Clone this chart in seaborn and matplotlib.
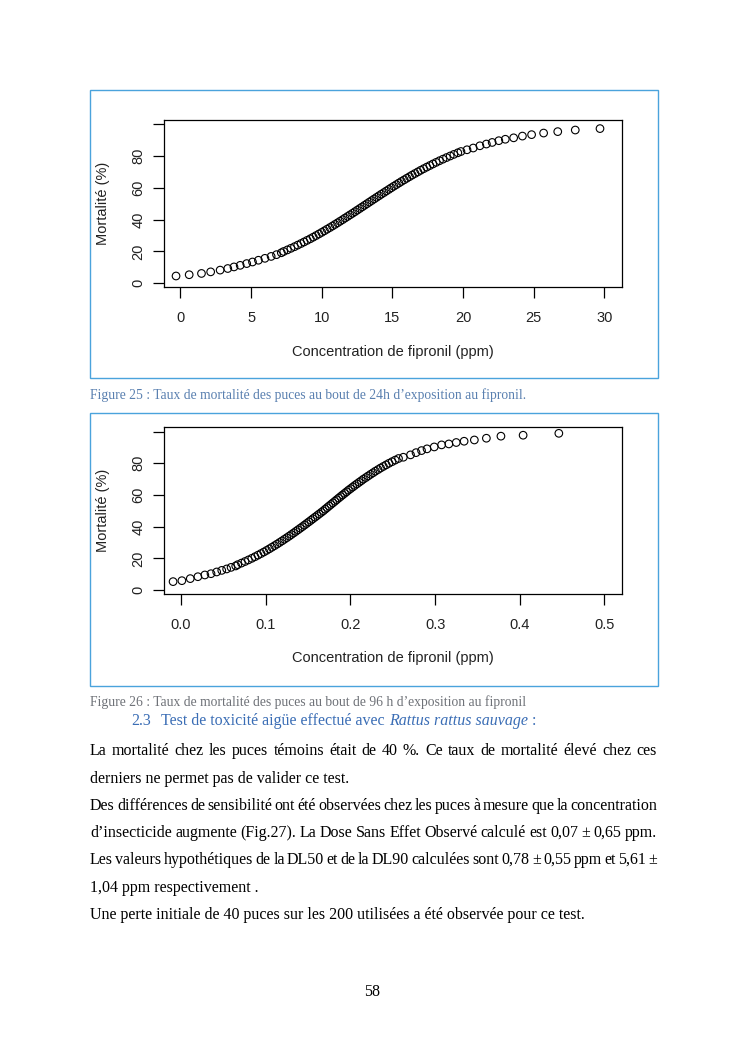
import matplotlib
matplotlib.use("Agg")
import matplotlib.pyplot as plt
import seaborn as sns
from matplotlib.patches import Rectangle

sns.set_style("white")
plt.rcParams["font.family"] = ["Liberation Sans", "DejaVu Sans"]

W, H = 745, 1053

# data (mortality in %, concentration in ppm)
conc_24h = [-0.31, 0.62, 1.49, 2.14, 2.81, 3.35, 3.79, 4.23, 4.69, 5.10,
            5.52, 5.98, 6.42, 6.80, 7.14,
            7.31, 7.57, 7.82, 8.07, 8.30, 8.53, 8.75, 8.97, 9.19, 9.40,
            9.60, 9.80, 10.00, 10.19, 10.38, 10.57, 10.76, 10.94, 11.12, 11.30,
            11.48, 11.65, 11.83, 12.00, 12.18, 12.35, 12.52, 12.69, 12.86, 13.03,
            13.20, 13.37, 13.54, 13.71, 13.88, 14.05, 14.22, 14.40, 14.57, 14.75,
            14.92, 15.10, 15.28, 15.46, 15.64, 15.83, 16.02, 16.21, 16.40, 16.60,
            16.80, 17.00, 17.21, 17.43, 17.65, 17.87, 18.10, 18.33, 18.58, 18.83,
            19.09, 19.35, 19.63,
            19.85, 20.28, 20.72, 21.19, 21.65, 22.06, 22.53, 22.99, 23.58, 24.20,
            24.85, 25.70, 26.70, 27.94, 29.69]
mort_24h = [4.6, 5.4, 6.2, 7.2, 8.3, 9.3, 10.3, 11.3, 12.4, 13.4,
            14.5, 15.7, 16.9, 18.0, 19.2,
            20, 21, 22, 23, 24, 25, 26, 27, 28, 29,
            30, 31, 32, 33, 34, 35, 36, 37, 38, 39,
            40, 41, 42, 43, 44, 45, 46, 47, 48, 49,
            50, 51, 52, 53, 54, 55, 56, 57, 58, 59,
            60, 61, 62, 63, 64, 65, 66, 67, 68, 69,
            70, 71, 72, 73, 74, 75, 76, 77, 78, 79,
            80, 81, 82,
            82.8, 83.9, 85.0, 86.4, 87.5, 88.5, 89.6, 90.5, 91.4, 92.5,
            93.4, 94.4, 95.3, 96.3, 97.2]

conc_96h = [-0.0095, 0.0009, 0.0108, 0.0198, 0.0280, 0.0353, 0.0420, 0.0480, 0.0538, 0.0590,
            0.0645,
            0.0669, 0.0713, 0.0755, 0.0795,
            0.0835, 0.0872, 0.0908, 0.0943, 0.0977, 0.1010, 0.1042, 0.1073, 0.1104, 0.1134,
            0.1163, 0.1192, 0.1220, 0.1248, 0.1276, 0.1302, 0.1329, 0.1355, 0.1381, 0.1407,
            0.1433, 0.1458, 0.1483, 0.1508, 0.1533, 0.1557, 0.1582, 0.1607, 0.1631, 0.1656,
            0.1680, 0.1702, 0.1725, 0.1747, 0.1770, 0.1793, 0.1816, 0.1838, 0.1861, 0.1884,
            0.1907, 0.1931, 0.1954, 0.1977, 0.2002, 0.2027, 0.2051, 0.2077, 0.2103, 0.2129,
            0.2154, 0.2183, 0.2210, 0.2238, 0.2267, 0.2295, 0.2326, 0.2356, 0.2389, 0.2422,
            0.2456, 0.2492, 0.2529, 0.2568,
            0.2625, 0.2710, 0.2775, 0.2840, 0.2905, 0.2990, 0.3077, 0.3163, 0.3250, 0.3343,
            0.3464, 0.3606, 0.3778, 0.4040, 0.4462]
mort_96h = [5.3, 5.9, 7.2, 8.4, 9.5, 10.3, 11.4, 12.4, 13.3, 14.3,
            15.2,
            16, 17, 18, 19,
            20, 21, 22, 23, 24, 25, 26, 27, 28, 29,
            30, 31, 32, 33, 34, 35, 36, 37, 38, 39,
            40, 41, 42, 43, 44, 45, 46, 47, 48, 49,
            50, 51, 52, 53, 54, 55, 56, 57, 58, 59,
            60, 61, 62, 63, 64, 65, 66, 67, 68, 69,
            70, 71, 72, 73, 74, 75, 76, 77, 78, 79,
            80, 81, 82, 83,
            83.8, 85.3, 86.7, 88.0, 89.1, 90.3, 91.6, 92.2, 93.1, 93.9,
            94.7, 95.8, 97.1, 97.7, 98.9]

ticks_24h = [0, 5, 10, 15, 20, 25, 30]
ticks_96h = [0.0, 0.1, 0.2, 0.3, 0.4, 0.5]
tick_labels_96h = ["0.0", "0.1", "0.2", "0.3", "0.4", "0.5"]
y_ticks = [0, 20, 40, 60, 80, 100]
y_tick_labels = ["0", "20", "40", "60", "80", ""]

xlabel = "Concentration de fipronil (ppm)"
ylabel = "Mortalité (%)"
caption_25 = "Figure 25 : Taux de mortalité des puces au bout de 24h d’exposition au fipronil."
caption_26 = "Figure 26 : Taux de mortalité des puces au bout de 96 h d’exposition au fipronil"

body_lines = [
    ("La mortalité chez les puces témoins était de 40 %.  Ce taux de mortalité élevé chez ces", True),
    ("derniers ne permet pas de valider ce test.", False),
    ("Des différences de sensibilité ont été observées chez les puces à mesure que la concentration", True),
    ("d’insecticide augmente (Fig.27).  La Dose Sans Effet Observé calculé est 0,07 ± 0,65 ppm.", True),
    ("Les valeurs hypothétiques de la DL50 et de la DL90 calculées sont 0,78 ± 0,55 ppm et 5,61 ±", True),
    ("1,04 ppm respectivement .", False),
    ("Une perte initiale de 40 puces sur les 200 utilisées a été observée pour ce test.", False),
]
body_y = [751, 779, 806, 833, 860, 888, 915]

fig = plt.figure(figsize=(W / 100, H / 100), dpi=100)
fig.patch.set_facecolor("white")


def fx(x):
    return x / W


def fy(y):
    return 1 - y / H


def frame(l, t, r, b):
    fig.patches.append(Rectangle((fx(l), fy(b)), fx(r) - fx(l), fy(t) - fy(b),
                                 transform=fig.transFigure, fill=False,
                                 edgecolor="#4aa3dc", linewidth=1.0))


def chart(conc, mort, top, bottom, xlim, ylim, xticks, xticklabels, xlab_y):
    ax = fig.add_axes([fx(163.6), fy(bottom), fx(621.9) - fx(163.6), fy(top) - fy(bottom)])
    sns.scatterplot(x=conc, y=mort, ax=ax, marker="o", s=30,
                    facecolors="none", edgecolor="black", linewidth=0.8)
    ax.set_xlim(xlim)
    ax.set_ylim(ylim)
    ax.set_xticks(xticks)
    ax.set_xticklabels(xticklabels)
    ax.set_yticks(y_ticks)
    ax.set_yticklabels(y_tick_labels, rotation=90, va="center")
    for sp in ax.spines.values():
        sp.set_color("black")
        sp.set_linewidth(0.9)
    ax.tick_params(axis="both", direction="out", length=8, width=0.9,
                   bottom=True, left=True, labelsize=10.5, colors="black",
                   labelcolor="#222222")
    ax.tick_params(axis="x", pad=9)
    ax.tick_params(axis="y", pad=5)
    ax.set_xlabel("")
    ax.set_ylabel("")
    fig.text(fx(392.7), fy(xlab_y), xlabel, ha="center", va="center",
             fontsize=10.5, color="#222222")
    fig.text(fx(102.7), fy((top + bottom) / 2), ylabel, ha="center", va="center",
             rotation=90, fontsize=10.5, color="#222222")
    return ax


frame(90, 90, 658, 378)
frame(90, 413, 658, 686)

chart(conc_24h, mort_24h, 120, 287.3, (-1.19, 31.24), (-2.5, 102.6),
      ticks_24h, [str(t) for t in ticks_24h], 352.3)
chart(conc_96h, mort_96h, 427.3, 594.3, (-0.0207, 0.5207), (-2.7, 102.7),
      ticks_96h, tick_labels_96h, 658.3)

serif = ["Liberation Serif", "DejaVu Serif"]

fig.text(fx(90), fy(395), caption_25, ha="left", va="center", fontsize=9.8,
         family=serif, color="#5a80b0")
fig.text(fx(90), fy(702), caption_26, ha="left", va="center", fontsize=9.8,
         family=serif, color="#6f7278")

# heading with italic species name
heading_color = "#3a6db5"
hy = 725
fig.text(fx(131), fy(hy), "2.3", ha="left", va="baseline", fontsize=11.5,
         family=serif, color=heading_color)
h1 = fig.text(fx(161), fy(hy), "Test de toxicité aigüe effectué avec ", ha="left",
              va="baseline", fontsize=11.5, family=serif, color=heading_color)
renderer = fig.canvas.get_renderer()
bb = h1.get_window_extent(renderer=renderer)
h2 = fig.text(bb.x1 / W, fy(hy), "Rattus rattus sauvage", ha="left", va="baseline",
              fontsize=11.5, family=serif, style="italic", color=heading_color)
bb = h2.get_window_extent(renderer=renderer)
fig.text(bb.x1 / W, fy(hy), " :", ha="left", va="baseline", fontsize=11.5,
         family=serif, color=heading_color)

# body text, justified lines spread between the margins
x_left, x_right = 90, 657
body_size = 11.5
for (line, justify), y in zip(body_lines, body_y):
    if not justify:
        fig.text(fx(x_left), fy(y), line, ha="left", va="center", fontsize=body_size,
                 family=serif, color="black")
        continue
    words = line.split()
    texts = [fig.text(0, fy(y), w, ha="left", va="center", fontsize=body_size,
                      family=serif, color="black") for w in words]
    widths = [t.get_window_extent(renderer=renderer).width for t in texts]
    gap = (x_right - x_left - sum(widths)) / (len(words) - 1)
    x = x_left
    for t, w in zip(texts, widths):
        t.set_x(fx(x))
        x += w + gap

fig.text(fx(372), fy(992), "58", ha="center", va="center", fontsize=11.5,
         family=serif, color="black")

fig.savefig("out.png", dpi=100)
